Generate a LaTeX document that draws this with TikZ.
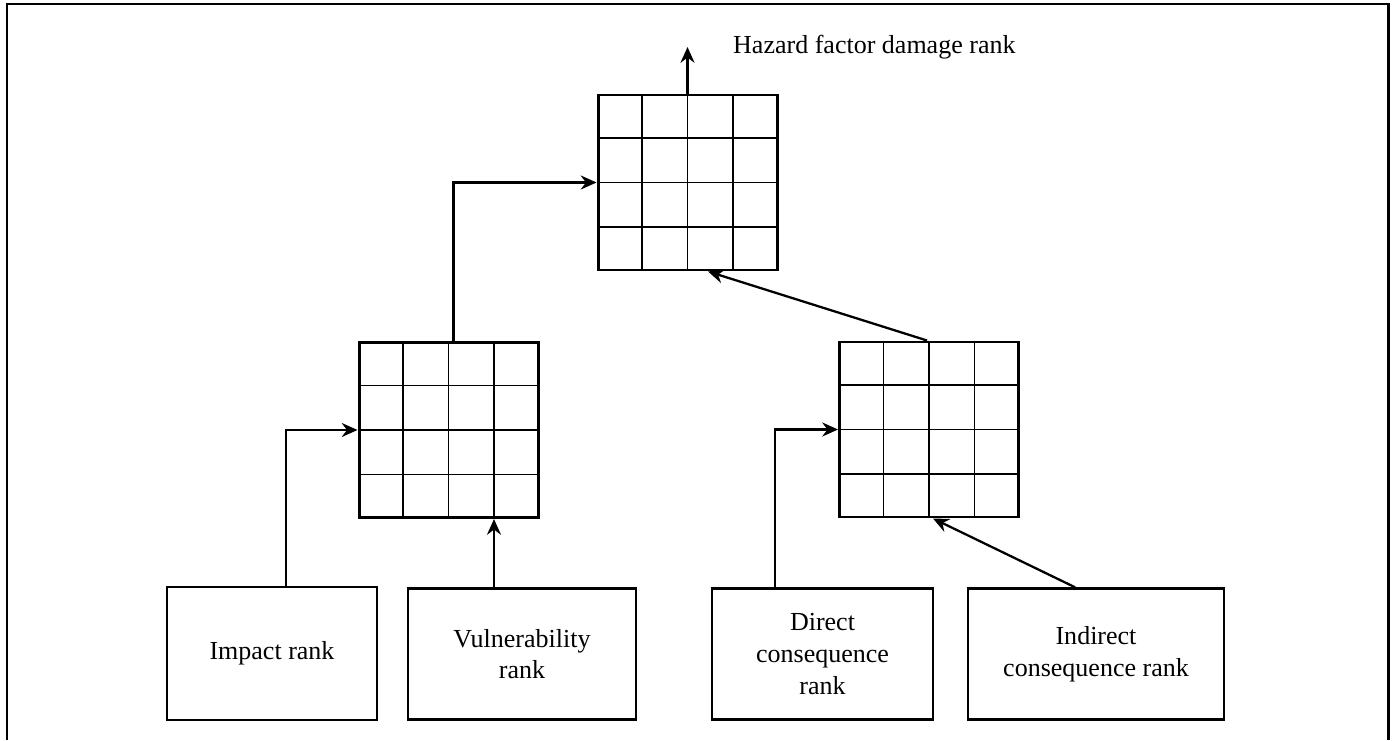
\documentclass[tikz,border=0pt]{standalone}
\usepackage{fontspec}
\setmainfont{Liberation Serif}
\usepackage{tikz}
\usetikzlibrary{calc,arrows.meta,positioning}
\tikzstyle{rankbox}=[draw,line width=1.4pt,align=center,inner sep=0pt,font=\fontsize{14.8}{18}\selectfont]
\tikzstyle{matbox}=[draw,line width=1.7pt,minimum width=3.58cm,minimum height=3.5cm,inner sep=0pt]
\tikzstyle{link}=[line width=1.3pt,->]

\begin{document}
\begin{tikzpicture}[>={Stealth[length=9pt,width=8pt,inset=3pt]}]
\useasboundingbox (0,0) rectangle (27.84,14.8);
\draw[line width=1.7pt] (0.14,0) -- (0.14,14.72) -- (27.76,14.72) -- (27.76,0);
% rank matrices
\draw (13.75,11.15) node [matbox] (mtop) {};
\draw (8.97,6.2) node [matbox] (mleft) {};
\draw (18.58,6.21) node [matbox] (mright) {};
\foreach \m in {mtop,mleft,mright}
  \foreach \i in {1,2,3} {
    \draw[line width=0.8pt] ($(\m.north west)!\i/4!(\m.north east)$) -- ($(\m.south west)!\i/4!(\m.south east)$);
    \draw[line width=0.8pt] ($(\m.south west)!\i/4!(\m.north west)$) -- ($(\m.south east)!\i/4!(\m.north east)$);
  }
% input ranks
\draw (5.44,1.73) node [rankbox,minimum width=4.2cm,minimum height=2.66cm,line width=1pt] (imp) {Impact rank};
\draw (10.44,1.72) node [rankbox,minimum width=4.56cm,minimum height=2.62cm] (vul) {Vulnerability\\rank};
\draw (16.45,1.72) node [rankbox,minimum width=4.42cm,minimum height=2.62cm] (dir) {Direct\\consequence\\rank};
\draw (21.92,1.72) node [rankbox,minimum width=5.12cm,minimum height=2.62cm] (ind) {Indirect\\consequence rank};
\coordinate (out) at (13.75,13.86);
\draw (14.54,13.72) node [anchor=base west,font=\fontsize{14.8}{18}\selectfont] (hfd) {Hazard factor damage rank};
\coordinate (vin) at ($(mleft.south west)!0.75!(mleft.south east)$);
\draw[link] (mtop.north) -- (out);
\draw[link] ([xshift=0.1cm]mleft.north) |- (mtop.west);
\draw[link] ([xshift=0.28cm]imp.north) |- (mleft.west);
\draw[link] (vin |- vul.north) -- (vin);
\draw[link] ([xshift=-0.95cm]dir.north) |- (mright.west);
\draw[link] ([xshift=-0.42cm]ind.north) -- ([xshift=0.08cm]mright.south);
\draw[link] ([xshift=-0.04cm]mright.north) -- ([xshift=0.41cm]mtop.south);
\end{tikzpicture}
\end{document}
